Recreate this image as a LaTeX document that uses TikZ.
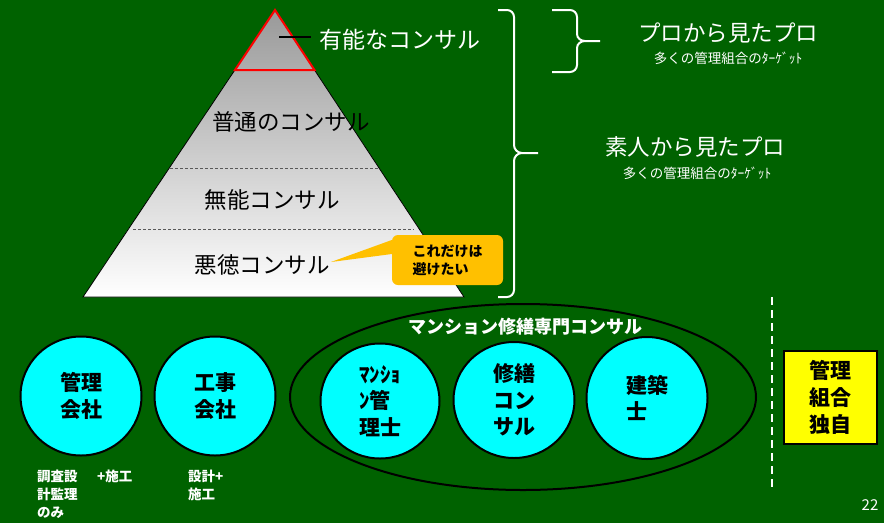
\documentclass[tikz,border=0pt]{standalone}
\usepackage{fontspec}
\setmainfont{Noto Sans CJK JP}
\usetikzlibrary{shapes.geometric}
\definecolor{bg}{RGB}{0,98,0}
\definecolor{cy}{RGB}{0,255,255}
\definecolor{org}{RGB}{255,192,0}
\definecolor{yel}{RGB}{255,255,0}
\begin{document}
\begin{tikzpicture}[x=1pt,y=-1pt,
  lvl/.style={font=\fontsize{22.5}{24}\selectfont, text=black, inner sep=0pt},
  wtitle/.style={font=\fontsize{22.5}{24}\selectfont, text=white, inner sep=0pt},
  wsub/.style={font=\fontsize{13.5}{14}\selectfont, text=white, inner sep=0pt},
  circ/.style={ellipse, draw=black, line width=2pt, fill=cy, minimum width=121pt, minimum height=119pt, inner sep=0pt, align=left, font=\fontsize{21}{26.5}\selectfont\bfseries},
  brc/.style={draw=white, line width=2pt},
  note/.style={text=white, inner sep=0pt, align=left, anchor=north west, font=\fontsize{13.5}{18}\selectfont\bfseries},
  dashln/.style={draw=black!65, line width=0.8pt, dash pattern=on 3pt off 2pt}
]
\useasboundingbox (0,0) rectangle (884,523);
\fill[bg] (0,0) rectangle (884,523);

% pyramid
\coordinate (apex) at (275,10);
\coordinate (bl) at (83,297);
\coordinate (br) at (464,297);
\shade[top color=black!40, bottom color=white] (apex) -- (bl) -- (br) -- cycle;
\draw[black, line width=0.8pt] (apex) -- (bl) -- (br) -- cycle;
\coordinate (rl) at (235,70);
\coordinate (rr) at (314.5,70);
\draw[red, line width=2pt, line join=miter] (apex) -- (rl) -- (rr) -- cycle;
\coordinate (d1l) at (170,168); \coordinate (d1r) at (378,168);
\coordinate (d2l) at (133,229); \coordinate (d2r) at (414,229);
\draw[dashln] (d1l) -- (d1r);
\draw[dashln] (d2l) -- (d2r);

\node[wtitle, font=\fontsize{23}{24}\selectfont] (top) at (400,40) {有能なコンサル};
\coordinate (tipc) at (279,37);
\draw[black, line width=2pt] (tipc) -- ([xshift=-8pt]top.west |- tipc);
\node[lvl] (l2) at (291,122) {普通のコンサル};
\node[lvl] (l3) at (272,200) {無能コンサル};
\node[lvl] (l4) at (262,265) {悪徳コンサル};

% callout
\node[fill=org, rounded corners=6pt, minimum width=111pt, minimum height=50pt, inner sep=0pt, align=left,
  font=\fontsize{14}{18}\selectfont\bfseries] (call) at (447.5,260) {これだけは\\避けたい};
\coordinate (ptip) at (331,262);
\fill[org] (ptip) -- ([yshift=6pt]call.west) -- ([yshift=20pt]call.west) -- cycle;

% braces
\draw[brc] (498,10) -- (507,10) to[out=0,in=90] (514,17) -- (514,145) to[out=-90,in=180] (522,153) -- (538,153);
\draw[brc] (498,297) -- (507,297) to[out=0,in=-90] (514,290) -- (514,161) to[out=90,in=180] (522,153);
\draw[brc] (552,10) -- (570,10) to[out=0,in=90] (577,17) -- (577,34) to[out=-90,in=180] (585,41) -- (600,41);
\draw[brc] (552,72) -- (570,72) to[out=0,in=-90] (577,65) -- (577,48) to[out=90,in=180] (585,41);

\node[wtitle] (pp) at (728,33) {プロから見たプロ};
\node[wsub] (pps) at (728,58) {多くの管理組合のﾀｰｹﾞｯﾄ};
\node[wtitle] (sp) at (695,147) {素人から見たプロ};
\node[wsub] (sps) at (697,173) {多くの管理組合のﾀｰｹﾞｯﾄ};

% bottom
\node[ellipse, draw=black, line width=2pt, minimum width=466pt, minimum height=186pt] (ms) at (523,397) {};
\node[text=white, inner sep=0pt, font=\fontsize{18}{20}\selectfont\bfseries] (mst) at (525,327) {マンション修繕専門コンサル};

\node[circ, align=center] (c1) at (81,396) {管理\\会社};
\node[circ, align=center] (c2) at (215,396) {工事\\会社};
\node[circ, minimum width=119pt, minimum height=115pt] (c3) at (380,401) {ﾏﾝｼｮ\\ﾝ管\\理士};
\node[circ, minimum width=121pt, minimum height=116pt] (c4) at (514,400) {修繕\\コン\\サル};
\node[circ, minimum width=121pt, minimum height=122pt] (c5) at (647,398) {建築\\士};

\node[draw=black, line width=2pt, fill=yel, minimum width=93pt, minimum height=93pt, inner sep=0pt, align=center,
  font=\fontsize{21}{27}\selectfont\bfseries] (own) at (830,397) {管理\\組合\\独自};

\coordinate (dtop) at (772,297);
\coordinate (dbot) at (772,490);
\draw[white, line width=2pt, dash pattern=on 8pt off 5pt] (dtop) -- (dbot);

\node[note] (n1) at (37,470) {調査設\\計監理\\のみ};
\node[note] (n2) at (97,470) {+施工};
\node[note] (n3) at (188,470) {設計+\\施工};

\node[text=white, inner sep=0pt, font=\fontsize{15}{16}\selectfont] (pg) at (870,505) {22};
\end{tikzpicture}
\end{document}
